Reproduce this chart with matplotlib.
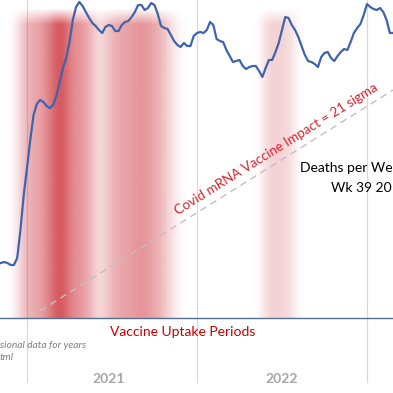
import numpy as np
import matplotlib.pyplot as plt
import matplotlib.transforms as mtransforms

# weeks counted from the first week of 2021
weeks = list(range(-8, 113))
deaths = [8550, 8560, 8550, 8530, 8530, 8600, 8880, 9230,
          9500, 9780, 10030, 10140, 10180, 10160, 10120, 10100, 10130, 10220,
          10360, 10500, 10600, 10760, 10980, 11110, 11160, 11120, 11060, 11000,
          10950, 10920, 10880, 10850, 10910, 10930, 10920, 10870, 10870, 10930,
          10960, 10970, 11010, 11060, 11130, 11130, 11080, 11100, 11150, 11130,
          11040, 10920, 10900, 10890, 10830, 10770, 10730, 10710, 10750, 10720,
          10720, 10820, 10850, 10860, 10850, 10880, 10960, 10930, 10790, 10770,
          10760, 10680, 10620, 10560, 10570, 10580, 10520, 10490, 10510, 10520,
          10520, 10470, 10410, 10500, 10580, 10580, 10660, 10750, 10880, 11010,
          11000, 10930, 10880, 10810, 10720, 10630, 10570, 10560, 10540, 10510,
          10610, 10650, 10660, 10600, 10570, 10620, 10660, 10690, 10680, 10760,
          10850, 10900, 10940, 11030, 11140, 11110, 11090, 11080, 11100, 11060,
          10980, 10850, 10850]

# vaccine uptake intensity (0-1) for the two uptake periods
uptake_weeks_1 = list(range(-4, 49))
uptake_level_1 = [0.02, 0.12, 0.22, 0.30, 0.35, 0.38, 0.40, 0.42, 0.45, 0.48,
                  0.55, 0.62, 0.70, 0.80, 0.85, 0.82, 0.70, 0.60, 0.55, 0.52,
                  0.50, 0.47, 0.44, 0.40, 0.30, 0.20, 0.14, 0.16, 0.25, 0.30,
                  0.34, 0.38, 0.40, 0.42, 0.44, 0.45, 0.46, 0.48, 0.50, 0.52,
                  0.50, 0.48, 0.45, 0.40, 0.38, 0.34, 0.28, 0.22, 0.15, 0.10,
                  0.06, 0.03, 0.0]
uptake_weeks_2 = list(range(71, 84))
uptake_level_2 = [0.0, 0.08, 0.15, 0.20, 0.22, 0.22, 0.22, 0.20, 0.20, 0.18,
                  0.15, 0.08, 0.0]

# linear trend of the deaths line
trend_weeks = [1, 112]
trend_deaths = [8010, 10280]

year_labels = ['2021', '2022']
year_label_weeks = [25, 78]
year_bounds = [0, 52, 104]

fig = plt.figure(figsize=(3.93, 3.93), dpi=100)
ax = fig.add_axes([0, 75 / 393, 1, 318 / 393])
xmin, xmax = -8.26, 111.96
ymin, ymax = 8000, 11180
ax.set_xlim(xmin, xmax)
ax.set_ylim(ymin, ymax)

# gradient bands for the uptake periods (smoothed for a soft look)
xs = np.linspace(xmin, xmax, 900)
level = np.interp(xs, uptake_weeks_1 + uptake_weeks_2,
                  uptake_level_1 + uptake_level_2, left=0, right=0)
step = xs[1] - xs[0]
k = np.arange(-40, 41) * step
kernel = np.exp(-0.5 * (k / 1.3) ** 2)
level = np.convolve(level, kernel / kernel.sum(), mode='same')
ys = np.linspace(ymin, ymax, 400)
fade = np.clip((11100 - ys) / 160, 0, 1)
alpha = fade[:, None] * level[None, :]
img = np.zeros((len(ys), len(xs), 4))
img[..., 0] = 0.80
img[..., 1] = 0.17
img[..., 2] = 0.21
img[..., 3] = alpha
ax.imshow(img, extent=[xmin, xmax, ymin, ymax], origin='lower',
          aspect='auto', interpolation='bilinear', zorder=1)

# year separators
trans = mtransforms.blended_transform_factory(ax.transData, ax.transAxes)
for b in year_bounds:
    ax.plot([b, b], [-0.2, 1.2], transform=trans, color='#D9D9D9',
            lw=0.9, clip_on=False, zorder=0.5)

ax.plot(trend_weeks, trend_deaths, color='#C0C0C0', lw=1.0,
        dashes=(5, 3.5), zorder=2)
ax.plot(weeks, deaths, color='#3F64AC', lw=1.6, zorder=3)

ax.text(76.3, 9690, 'Covid mRNA Vaccine Impact = 21 sigma', color='#D8222C',
        fontsize=9.6, family='Lato', rotation=32, rotation_mode='anchor',
        ha='center', va='center', zorder=4)

# title lines, cut at the right edge as in the source crop
ax.text(300 / 393, 1 - 168 / 318, 'Deaths per We', transform=ax.transAxes,
        fontsize=10, family='Lato', color='black', ha='left', va='center')
ax.text(331 / 393, 1 - 188 / 318, 'Wk 39 20', transform=ax.transAxes,
        fontsize=10, family='Lato', color='black', ha='left', va='center')

for s in ['top', 'left', 'right']:
    ax.spines[s].set_visible(False)
ax.spines['bottom'].set_color('#56708F')
ax.spines['bottom'].set_linewidth(1.0)
ax.set_xticks([])
ax.set_yticks([])

fig.text(183 / 393, 1 - 332 / 393, 'Vaccine Uptake Periods', color='#C00000',
         fontsize=10, family='Lato', ha='center', va='center')
fig.text(0, 1 - 346 / 393, 'sional data for years', color='#7F7F7F',
         fontsize=7.4, family='Lato', style='italic', ha='left', va='center')
fig.text(0, 1 - 358 / 393, 'tml', color='#7F7F7F',
         fontsize=7.4, family='Lato', style='italic', ha='left', va='center')

ytrans = mtransforms.blended_transform_factory(ax.transData, fig.transFigure)
for lab, w in zip(year_labels, year_label_weeks):
    ax.text(w, 1 - 379 / 393, lab, transform=ytrans, color='#A6A6A6',
            fontsize=10, family='Lato', weight='bold', ha='center',
            va='center', clip_on=False)

fig.savefig('out.png', dpi=100)
